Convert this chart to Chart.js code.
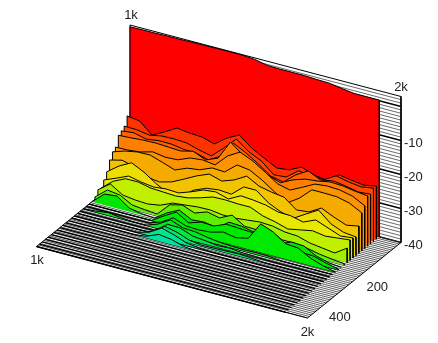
<!DOCTYPE html>
<html lang="en">
<head>
<meta charset="UTF-8">
<title>Waterfall</title>
<script src="https://cdn.jsdelivr.net/npm/chart.js"></script>
<style>
    html, body { margin: 0; padding: 0; background: #fff; }
    canvas { display: block; }
</style>
</head>
<body>
<canvas id="chart" width="438" height="343"></canvas>
<script>
    // level in dB per frequency step, one list per time slice, back to front
    const slice0 = [2.4,2.5,2.5,2.6,2.6,2.7,2.7,2.8,2.8,2.8,2.5,1.7,1.6,1.6,1.6,1.4,1.3,0.7,0.2,0.2,0.2];
    const slice1 = [-23.1,-23.6,-26.8,-24.9,-22.8,-23.3,-23.5,-24.6,-21.9,-20,-22.9,-24.9,-26.8,-26.4,-24.6,-26,-26.5,-24,-24.6,-25.1,-24.4];
    const slice2 = [-25.4,-25.5,-26.1,-25.4,-25.3,-25.5,-26.6,-27.4,-24.1,-20.5,-23.3,-25,-28.1,-27.8,-25,-25.6,-25.7,-23.6,-24.4,-24.9,-24.3];
    const slice3 = [-26.1,-25.7,-26.6,-26.1,-26.1,-26.7,-26.8,-27.9,-25.8,-21,-22.9,-25.2,-27.8,-28.6,-25.5,-23.4,-25.1,-24.4,-24.9,-25.7,-25.4];
    const slice4 = [-26.7,-26.5,-26.2,-26.1,-26.3,-26.5,-25.6,-27.2,-25.7,-20,-22.9,-24.8,-26.8,-28.1,-26.3,-25.1,-24.7,-24,-24.2,-24.8,-25.2];
    const slice5 = [-29.5,-29.4,-29,-28,-28.6,-28.4,-26.9,-26.5,-27,-23.4,-21.3,-22.9,-25.2,-27.7,-28.6,-26.8,-24.9,-24.5,-24.7,-25.5,-27.4];
    const slice6 = [-30.2,-29,-28.3,-28.2,-29.4,-30.7,-29.2,-28.7,-27.2,-27.4,-24.4,-24.9,-26.9,-29.4,-31.7,-29.3,-25.9,-25.9,-26,-26.9,-28.8];
    const slice7 = [-31.9,-31,-32,-34,-34.5,-33.5,-31.7,-29.8,-28.3,-29.4,-28.1,-26,-28,-28.8,-29.3,-32.1,-31.7,-29.6,-31.3,-32.7,-32];
    const slice8 = [-34.7,-32,-30.1,-31.9,-34.4,-36.4,-35.8,-33.3,-31.8,-31.3,-31.6,-28.5,-28.5,-31.3,-33,-33.8,-31.6,-29.5,-32.6,-34.1,-34.5];
    const slice9 = [-36.4,-34.9,-33.3,-34.1,-34.6,-34.2,-34.4,-33.1,-31.6,-31.2,-32.3,-30.4,-30.7,-31.2,-32.3,-32.4,-33.3,-31.7,-33.1,-34.5,-34.1];
    const slice10 = [-38.1,-35.1,-33.4,-33.4,-34.2,-34.4,-34.6,-34.2,-33.2,-32,-31.9,-32.1,-32.1,-33.7,-34.5,-35.6,-34.9,-34.2,-34.8,-34.4,-34];
    const slice11 = [-37.9,-35.2,-37.5,-38,-38.2,-37.6,-36,-35.6,-35.2,-35.1,-35.6,-35.6,-35.2,-34.8,-35,-35.8,-36,-37.1,-37.6,-38.1,-35.7];
    const slice12 = [-39.3,-36.3,-36.8,-38.8,-39.2,-39.5,-35.8,-34.9,-36.3,-35,-35.8,-34,-36.3,-36.4,-35.5,-37.4,-37.4,-37.9,-38.7,-39.2,-39.6];
    const slice13 = [-40,-36.8,-36.4,-39,-39.7,-40,-37.5,-35.7,-37.6,-37.3,-38,-35.4,-35.6,-36.4,-37.2,-37.9,-36.4,-36.6,-38.6,-39.6,-40];
    const slice14 = [-40,-40,-40,-40,-40,-40,-37.7,-35.6,-37.8,-36.6,-36.8,-35.3,-35.5,-35.7,-36.5,-38.4,-37.2,-37.7,-37.9,-39,-39.8];
    const slice15 = [-40,-40,-40,-40,-40,-40,-38.8,-36.6,-38,-38.2,-37.9,-36.9,-37.6,-36.8,-31.6,-33,-35.5,-35.8,-37.8,-39.1,-40];
    const slice16 = [-40,-39.7,-39.2,-39.7,-40,-40,-38.7,-36.5,-37.9,-38.1,-38.8,-39.3,-39.5,-39.6,-39.5,-39.6,-40,-40,-40,-40,-40];
    const slice17 = [-40,-40,-40,-40,-40,-40,-39.8,-37.1,-37.2,-38.6,-39,-39.5,-39.3,-39.7,-39.8,-40,-40,-40,-40,-40,-40];
    const slice18 = [-40,-40,-40,-40,-40,-40,-39.7,-37,-37.8,-39.2,-39.7,-39.6,-39.5,-39.4,-39.6,-40,-40,-40,-40,-40,-40];
    const slice19 = [-40,-40,-40,-40,-40,-40,-39,-36.8,-37.9,-39.3,-39.8,-40,-40,-40,-40,-40,-40,-40,-40,-40,-40];
    const slice20 = [-40,-40,-40,-40,-40,-40,-39.5,-38,-38.5,-39.6,-40,-40,-40,-40,-40,-40,-40,-40,-40,-40,-40];
    // these slices run flat along the floor, in front and under the bumps
    const floorSlices = [14,15,16,17,18,19,20,21,22,23,24,25,26,27,28,29,30,31,32];

    const slices = [slice0,slice1,slice2,slice3,slice4,slice5,slice6,slice7,slice8,slice9,slice10,
        slice11,slice12,slice13,slice14,slice15,slice16,slice17,slice18,slice19,slice20];
    const sliceColors = ["#ff0000","#ff3300","#ff4800","#ff6000","#ff7f00","#fb9400","#f6ab00","#f2c400",
        "#ecde00","#e8e800","#c0f000","#a0ee00","#60ee00","#00e600","#00e800","#00ea00","#00ea20","#00e840",
        "#00e670","#00e690","#00e0a0"];

    const dbTicks = [-10,-20,-30,-40];
    const timeTicks = [200,400];
    const freqLabels = ["1k","2k"];

    // oblique projection: u along frequency, v along time, db upwards
    const sliceCount = 32, dataEnd = 0.92, dbMin = -40, dbTop = 2.94;
    function project(u, v, db) {
        return {
            x: 130 + 271 * u - 93.5 * v,
            y: 171 + 71.5 * u + 75.5 * v - 3.4 * (db - dbMin)
        };
    }

    const datasets = [];
    function addLine(points, width, color, fillColor) {
        datasets.push({
            data: points,
            showLine: true,
            pointRadius: 0,
            tension: 0,
            borderWidth: width,
            borderColor: color,
            backgroundColor: fillColor || "transparent",
            fill: fillColor ? "shape" : false,
            order: 1000 - datasets.length
        });
    }

    // back wall hatch, one line per dB
    for (let db = dbMin; db <= 2; db++) {
        const heavy = db % 10 === 0;
        addLine([project(0, 0, db), project(1, 0, db)], heavy ? 1.3 : 0.8, heavy ? "#000" : "#444");
    }
    // floor hatch
    for (let i = 0; i <= 50; i++) {
        addLine([project(0, i / 50, dbMin), project(1, i / 50, dbMin)], 0.8, "#333");
    }
    // box outline
    addLine([project(0, 0, dbMin), project(0, 0, dbTop), project(1, 0, dbTop), project(1, 0, dbMin),
        project(1, 1, dbMin), project(0, 1, dbMin), project(0, 0, dbMin)], 1, "#000");

    floorSlices.forEach(k => {
        addLine([project(0, k / sliceCount, dbMin), project(dataEnd, k / sliceCount, dbMin)], 1.35, "#000");
    });
    // slices from back to front, each one closed down to the floor
    slices.forEach((levels, k) => {
        const v = k / sliceCount;
        const pts = [project(0, v, dbMin)];
        levels.forEach((db, i) => pts.push(project(dataEnd * i / (levels.length - 1), v, db)));
        pts.push(project(dataEnd, v, dbMin));
        addLine(pts, 1, "#000", sliceColors[k]);
    });

    const axisText = {
        id: "axisText",
        afterDraw(chart) {
            const ctx = chart.ctx, sx = chart.scales.x, sy = chart.scales.y;
            function label(text, p, dx, dy, align) {
                ctx.textAlign = align || "center";
                ctx.fillText(text, sx.getPixelForValue(p.x) + dx, sy.getPixelForValue(p.y) + dy);
            }
            ctx.save();
            ctx.font = "13px 'Liberation Sans'";
            ctx.fillStyle = "#222";
            ctx.textBaseline = "middle";
            label(freqLabels[0], project(0, 0, dbTop), 1, -10);
            label(freqLabels[1], project(1, 0, dbTop), 0, -9);
            label(freqLabels[0], project(0, 1, dbMin), 0.5, 14);
            label(freqLabels[1], project(1, 1, dbMin), 0, 14);
            dbTicks.forEach(t => label(String(t), project(1, 0, t), 3, 3, "left"));
            timeTicks.forEach(t => label(String(t), project(1, 0.1 + t / 500, dbMin), 23, 7));
            ctx.restore();
        }
    };

    new Chart(document.getElementById("chart"), {
        type: "scatter",
        data: { datasets: datasets },
        plugins: [axisText],
        options: {
            responsive: false,
            animation: false,
            events: [],
            layout: { padding: 0 },
            plugins: { legend: { display: false }, tooltip: { enabled: false } },
            scales: {
                x: { type: "linear", display: false, min: 0, max: 438 },
                y: { type: "linear", display: false, min: 0, max: 343, reverse: true }
            }
        }
    });
</script>
</body>
</html>
